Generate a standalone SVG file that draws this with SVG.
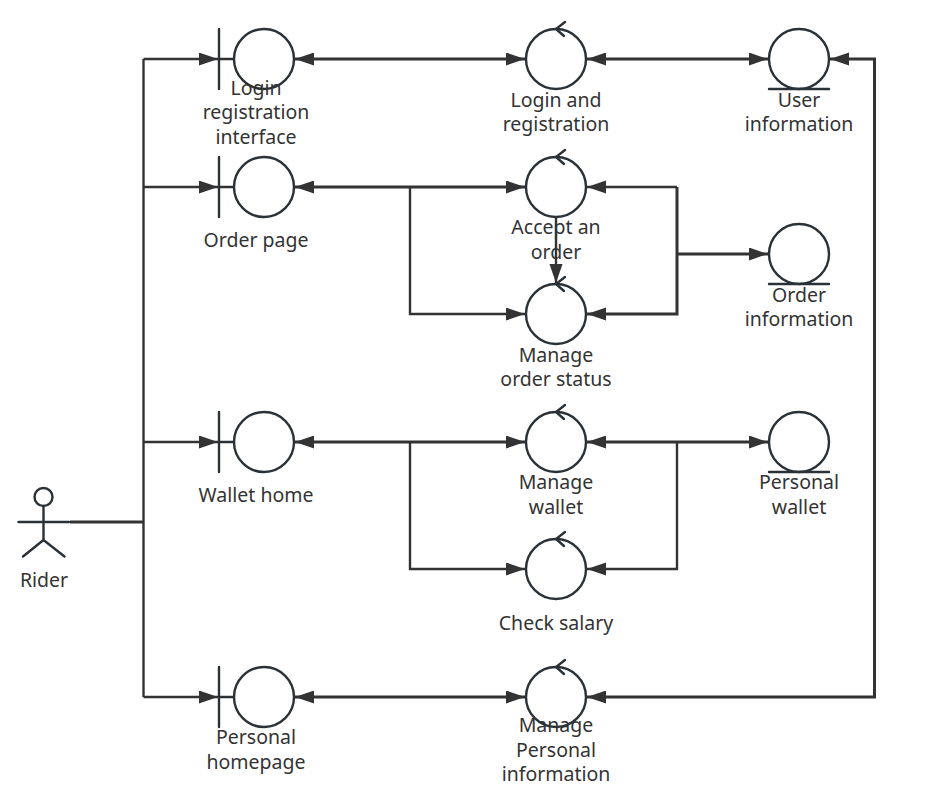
<svg xmlns="http://www.w3.org/2000/svg" width="943" height="796" viewBox="0 0 943 796">
<style>
.s{fill:#fff;fill-opacity:0;stroke:#2a3238;stroke-width:2.4;stroke-linecap:round}
.c{fill:none;stroke:#333;stroke-width:2.4}
.t{stroke-width:3}
.a{marker-end:url(#h)}
.b{marker-start:url(#hs);marker-end:url(#h)}
text{font-family:"Noto Sans","Open Sans","Liberation Sans",sans-serif;font-size:19.5px;fill:#333;text-anchor:middle}
</style>
<defs>
<marker id="h" markerUnits="userSpaceOnUse" markerWidth="20" markerHeight="14" refX="19" refY="6.5" orient="auto"><path d="M0 0L19 6.500L0 13Z" fill="#333"/></marker>
<marker id="hs" markerUnits="userSpaceOnUse" markerWidth="20" markerHeight="14" refX="0" refY="6.5" orient="auto"><path d="M19 0L0 6.500L19 13Z" fill="#333"/></marker>
<g id="bnd"><circle class="s" cx="0" cy="0" r="30"/><path class="s" d="M-45 -30V30M-45 0H-30"/></g>
<g id="ctl"><circle class="s" cx="0" cy="0" r="30"/><path class="s" d="M9 -37L0 -30L8 -23"/></g>
<g id="ent"><circle class="s" cx="0" cy="0" r="30"/><path class="s" d="M-30 30H30"/></g>
</defs>
<g id="connectors">
<path class="c t" d="M70 522H143.500"/>
<path class="c" d="M143.500 59V697"/>
<path class="c a" d="M143.500 59H218"/>
<path class="c a" d="M143.500 187H218"/>
<path class="c a" d="M143.500 442H218"/>
<path class="c a" d="M143.500 697H218"/>
<path class="c t b" d="M295 59H525"/>
<path class="c t b" d="M587 59H768"/>
<path class="c t b" d="M295 187H525"/>
<path class="c a" d="M410 187V314H525"/>
<path class="c a" d="M677 187H587"/>
<path class="c t a" d="M677 187V314H587"/>
<path class="c t a" d="M677 254H768"/>
<path class="c a" d="M556 217V283"/>
<path class="c t b" d="M295 442H525"/>
<path class="c a" d="M410 442V569H525"/>
<path class="c t b" d="M587 442H768"/>
<path class="c a" d="M677 442V569H587"/>
<path class="c t b" d="M295 697H525"/>
<path class="c t b" d="M587 697H874.500V59H830"/>
</g>
<g id="rider"><circle class="s" cx="43.500" cy="497" r="9"/><path class="s" stroke-width="2" d="M43.500 506V540M18.500 522H69M43.500 540L23 556.500M43.500 540L64.500 556.500"/><text x="44" y="587">Rider</text></g>
<g id="login-ui"><use href="#bnd" x="264" y="59"/><text x="256" y="95">Login</text><text x="256" y="119">registration</text><text x="256" y="144">interface</text></g>
<g id="login-reg"><use href="#ctl" x="556" y="59"/><text x="556" y="107">Login and</text><text x="556" y="131">registration</text></g>
<g id="user-info"><use href="#ent" x="799" y="59"/><text x="799" y="107">User</text><text x="799" y="131">information</text></g>
<g id="order-page"><use href="#bnd" x="264" y="187"/><text x="256" y="247">Order page</text></g>
<g id="accept"><use href="#ctl" x="556" y="187"/><text x="556" y="234">Accept an</text><text x="556" y="259">order</text></g>
<g id="order-status"><use href="#ctl" x="556" y="314"/><text x="556" y="362">Manage</text><text x="556" y="386">order status</text></g>
<g id="order-info"><use href="#ent" x="799" y="254"/><text x="799" y="302">Order</text><text x="799" y="326">information</text></g>
<g id="wallet-home"><use href="#bnd" x="264" y="442"/><text x="256" y="502">Wallet home</text></g>
<g id="manage-wallet"><use href="#ctl" x="556" y="442"/><text x="556" y="489">Manage</text><text x="556" y="514">wallet</text></g>
<g id="personal-wallet"><use href="#ent" x="799" y="442"/><text x="799" y="489">Personal</text><text x="799" y="514">wallet</text></g>
<g id="salary"><use href="#ctl" x="556" y="569"/><text x="556" y="630">Check salary</text></g>
<g id="homepage"><use href="#bnd" x="264" y="697"/><text x="256" y="744">Personal</text><text x="256" y="769">homepage</text></g>
<g id="manage-info"><use href="#ctl" x="556" y="697"/><text x="556" y="732">Manage</text><text x="556" y="757">Personal</text><text x="556" y="781">information</text></g>
</svg>
